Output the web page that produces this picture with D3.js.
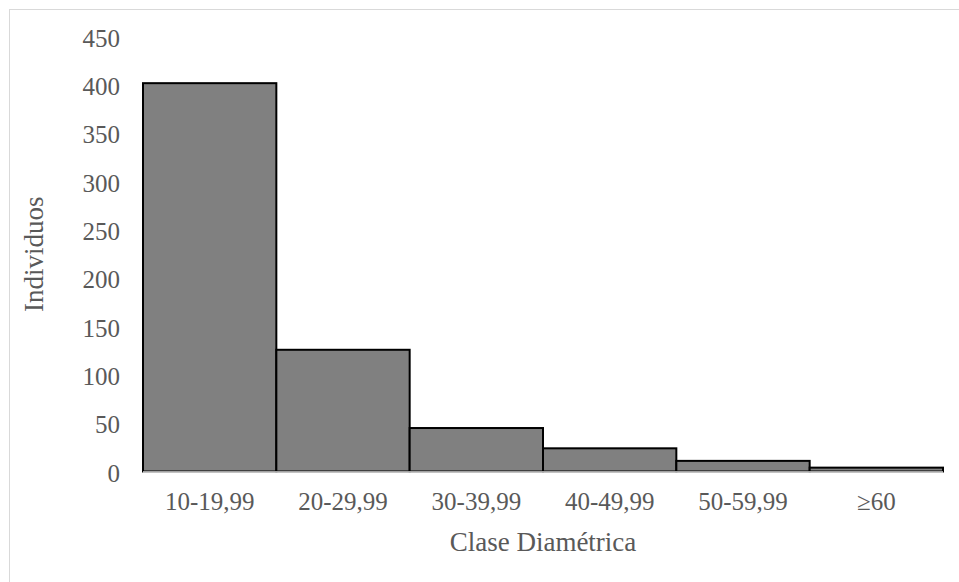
<!DOCTYPE html>
<html>
<head>
<meta charset="utf-8">
<script src="https://cdn.jsdelivr.net/npm/d3@7"></script>
<style>
  html, body { margin: 0; padding: 0; background: #fff; }
  svg { display: block; }
  text { font-family: "Liberation Serif", "DejaVu Serif", serif; fill: #595959; }
</style>
</head>
<body>
<svg id="chart" width="959" height="582"></svg>
<script>
const categories = ["10-19,99", "20-29,99", "30-39,99", "40-49,99", "50-59,99", "≥60"];
const values = [402, 126, 45, 24, 11, 4];
const yTicks = [0, 50, 100, 150, 200, 250, 300, 350, 400, 450];
const xTitle = "Clase Diamétrica";
const yTitle = "Individuos";

const svg = d3.select("#chart");
const W = 959, H = 582;
const plot = { left: 143, right: 943, top: 36.8, bottom: 471.5 };

// outer chart-area border
svg.append("rect")
  .attr("x", 9.5).attr("y", 9.5)
  .attr("width", W + 20).attr("height", H + 20)
  .attr("fill", "none").attr("stroke", "#d9d9d9").attr("stroke-width", 1);

const x = d3.scaleBand().domain(categories).range([plot.left, plot.right]).padding(0);
const y = d3.scaleLinear().domain([0, 450]).range([plot.bottom, plot.top]);

// bars
svg.append("g").selectAll("rect")
  .data(categories)
  .join("rect")
  .attr("x", d => x(d))
  .attr("y", (d, i) => y(values[i]))
  .attr("width", x.bandwidth())
  .attr("height", (d, i) => y(0) - y(values[i]))
  .attr("fill", "#808080")
  .attr("stroke", "#000")
  .attr("stroke-width", 2);

// x axis line
svg.append("line")
  .attr("x1", plot.left).attr("x2", plot.right)
  .attr("y1", y(0) + 0.5).attr("y2", y(0) + 0.5)
  .attr("stroke", "#d9d9d9").attr("stroke-width", 1.5);

// y axis labels
const yAxis = d3.axisLeft(y).tickValues(yTicks).tickSize(0).tickPadding(0);
const gy = svg.append("g").attr("transform", `translate(120,1.5)`).call(yAxis);
gy.select(".domain").remove();
gy.selectAll("text")
  .attr("font-size", 25)
  .attr("font-family", "Liberation Serif, DejaVu Serif, serif")
  .attr("fill", "#595959");

// x axis labels
const xAxis = d3.axisBottom(x).tickSize(0).tickPadding(0);
const gx = svg.append("g").attr("transform", `translate(0,501.7)`).call(xAxis);
gx.select(".domain").remove();
gx.selectAll("text")
  .attr("font-size", 25)
  .attr("font-family", "Liberation Serif, DejaVu Serif, serif")
  .attr("fill", "#595959")
  .attr("y", 0)
  .attr("dy", "0.32em");

// axis titles
svg.append("text")
  .attr("x", (plot.left + plot.right) / 2)
  .attr("y", 541.5)
  .attr("dy", "0.35em")
  .attr("text-anchor", "middle")
  .attr("font-size", 27)
  .text(xTitle);

svg.append("text")
  .attr("transform", `translate(34,${(plot.top + plot.bottom) / 2}) rotate(-90)`)
  .attr("dy", "0.35em")
  .attr("text-anchor", "middle")
  .attr("font-size", 27)
  .text(yTitle);
</script>
</body>
</html>
